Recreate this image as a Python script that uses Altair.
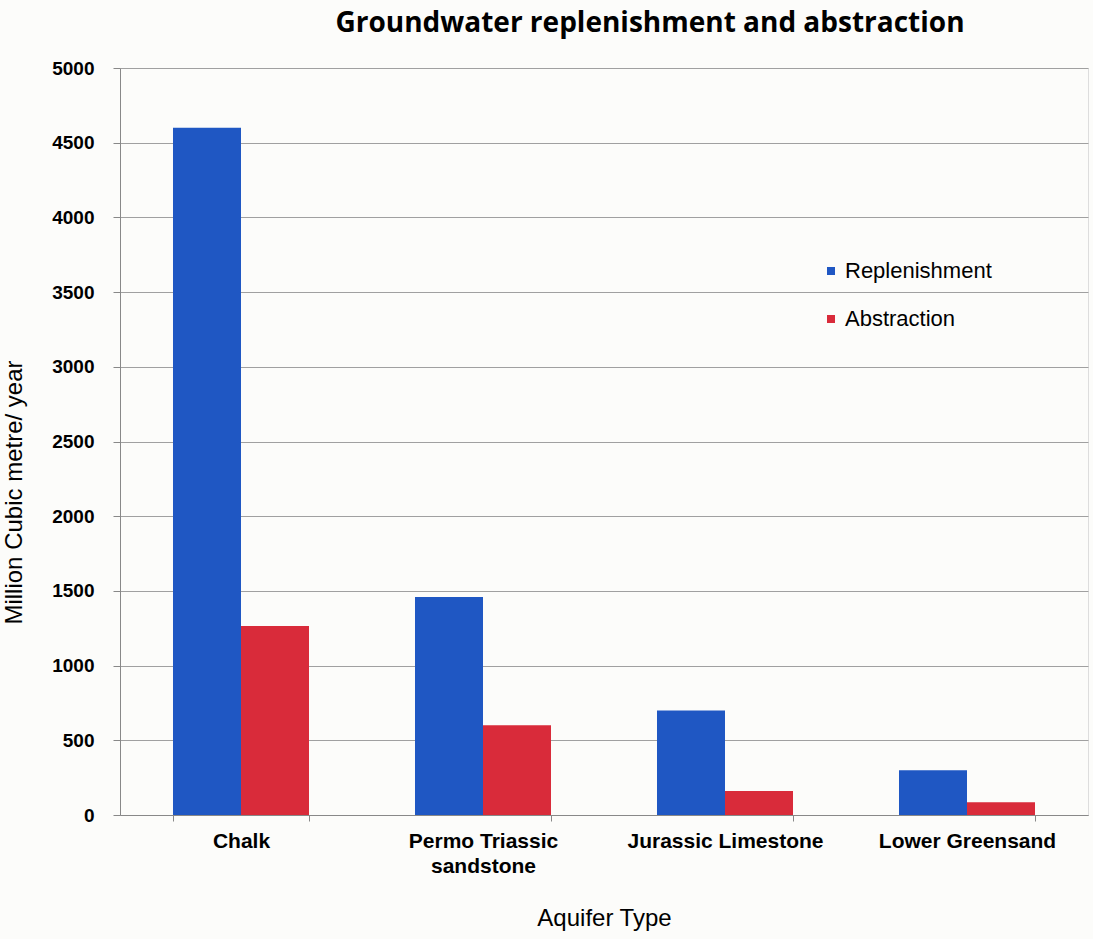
import altair as alt
import pandas as pd

# Groundwater replenishment and abstraction by aquifer type (million m³/year)
aquifers = ["Chalk", "Permo Triassic sandstone", "Jurassic Limestone", "Lower Greensand"]
replenishment = [4600, 1460, 700, 300]
abstraction = [1265, 600, 160, 85]
series = ["Replenishment", "Abstraction"]
colors = ["#1f57c3", "#d92b3a"]

rows = []
for a, r, ab in zip(aquifers, replenishment, abstraction):
    rows.append({"Aquifer": a, "Series": series[0], "Value": r})
    rows.append({"Aquifer": a, "Series": series[1], "Value": ab})
df = pd.DataFrame(rows)

font = "Liberation Sans"

chart = (
    alt.Chart(df)
    .mark_bar()
    .encode(
        x=alt.X(
            "Aquifer:N",
            sort=aquifers,
            scale=alt.Scale(paddingInner=0.438, paddingOuter=0.219),
            axis=alt.Axis(
                title="Aquifer Type",
                labelAngle=0,
                labelFont=font,
                labelFontWeight="bold",
                labelFontSize=21,
                labelColor="#000000",
                labelPadding=9,
                labelLimit=400,
                labelOverlap=False,
                labelExpr="datum.label == 'Permo Triassic sandstone' ? ['Permo Triassic', 'sandstone'] : datum.label",
                labelLineHeight=25,
                tickBand="extent",
                tickSize=6,
                tickColor="#888888",
                domainColor="#888888",
                grid=False,
                titleFont=font,
                titleFontWeight="normal",
                titleFontSize=24,
                titleColor="#000000",
                titleY=103,
                titleBaseline="middle",
            ),
        ),
        xOffset=alt.XOffset("Series:N", sort=series),
        y=alt.Y(
            "Value:Q",
            scale=alt.Scale(domain=[0, 5000]),
            axis=alt.Axis(
                title="Million Cubic metre/ year",
                values=list(range(0, 5001, 500)),
                format="d",
                labelFont=font,
                labelFontWeight="bold",
                labelFontSize=19,
                labelColor="#000000",
                labelPadding=19,
                tickSize=7,
                tickColor="#888888",
                domainColor="#888888",
                gridColor="#a0a0a0",
                gridWidth=1,
                titleFont=font,
                titleFontWeight="normal",
                titleFontSize=24,
                titleColor="#000000",
                titleX=-106,
                titleY=424,
                titleAngle=270,
                titleBaseline="middle",
            ),
        ),
        color=alt.Color(
            "Series:N",
            sort=series,
            scale=alt.Scale(domain=series, range=colors),
            legend=alt.Legend(
                title=None,
                orient="none",
                legendX=700,
                legendY=192,
                symbolType="square",
                symbolSize=64,
                symbolStrokeWidth=0,
                labelFont=font,
                labelFontSize=22,
                labelColor="#000000",
                rowPadding=26,
                labelOffset=3,
            ),
        ),
    )
    .properties(
        width=968,
        height=747,
        padding={"left": 120, "top": 68, "right": 5, "bottom": 124},
        autosize=alt.AutoSizeParams(type="none"),
        title=alt.TitleParams(
            "Groundwater replenishment and abstraction",
            font="Open Sans",
            fontSize=28,
            fontWeight="bold",
            color="#000000",
            anchor="middle",
            dx=46,
            offset=21,
        ),
    )
    .configure_view(stroke=None)
    .configure(background="#fcfcfa")
)

chart.save("out.html", embed_options={"renderer": "svg", "actions": False})
